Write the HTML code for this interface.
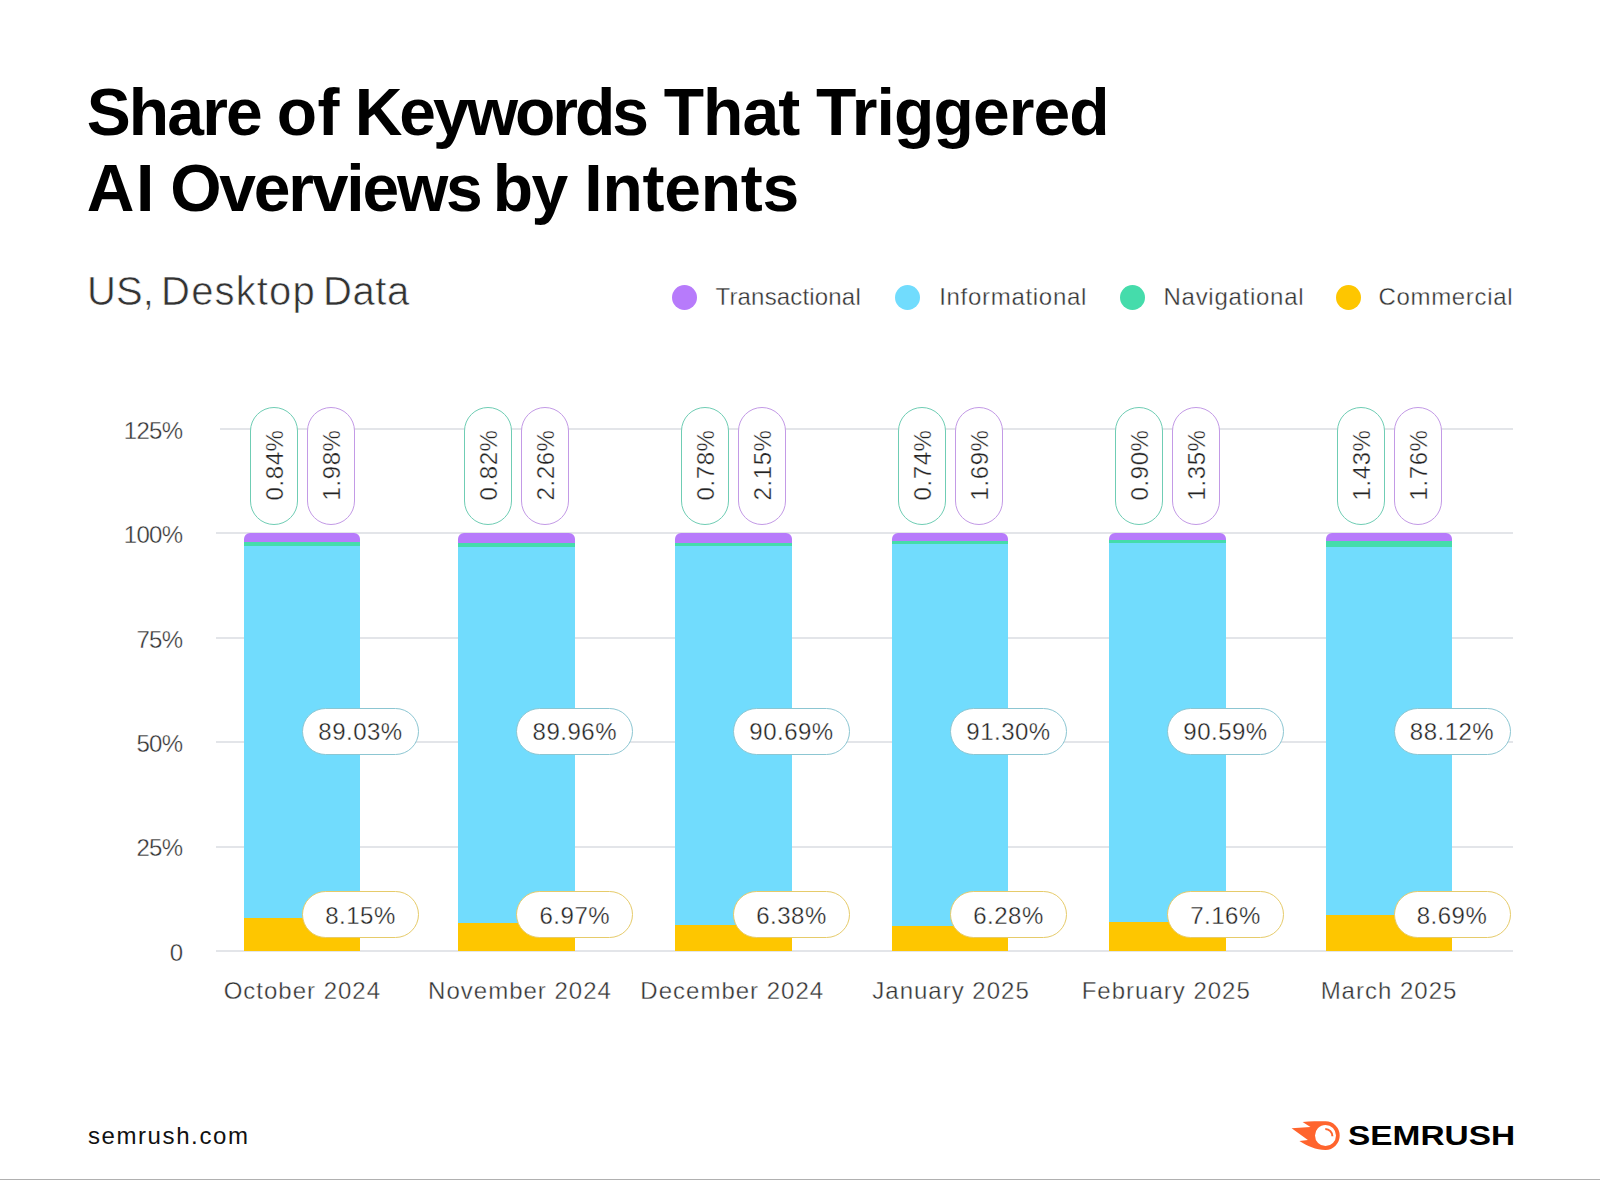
<!DOCTYPE html>
<html><head><meta charset="utf-8">
<style>
html,body{margin:0;padding:0;background:#fff;}
.lt,.yl,.xl,.vt,.hp{-webkit-text-stroke:0.35px #fff;}
.sub{-webkit-text-stroke:0.6px #fff;}
body{width:1600px;height:1180px;position:relative;overflow:hidden;font-family:"Liberation Sans",sans-serif;}
.t{position:absolute;white-space:nowrap;}
.title{position:absolute;left:86.7px;top:73.5px;font-size:66px;line-height:76px;font-weight:700;color:#000;letter-spacing:-1.6px;white-space:nowrap;}
.tw{position:absolute;font-size:66px;line-height:76px;font-weight:700;color:#000;white-space:nowrap;}
.sub{position:absolute;top:271px;font-size:40px;line-height:40px;color:#333;white-space:nowrap;}
.dot{position:absolute;top:285px;width:25px;height:25px;border-radius:50%;}
.lt{position:absolute;top:284.9px;font-size:24px;line-height:24px;color:#333;white-space:nowrap;}
.g{position:absolute;left:216px;width:1297px;height:2px;background:#e3e5e9;}
.yl{position:absolute;left:0;width:182.4px;text-align:right;font-size:24px;line-height:24px;color:#333;letter-spacing:-0.7px;}
.bar{position:absolute;overflow:hidden;border-radius:6px 6px 0 0;}
.vp{position:absolute;top:406.6px;width:46px;height:116px;border:1px solid;border-radius:24px;background:#fff;}
.vt{position:absolute;top:452.6px;width:120px;height:24px;margin-left:-59px;text-align:center;transform:rotate(-90deg);font-size:24px;line-height:24px;color:#222;letter-spacing:0.6px;}
.hp{position:absolute;width:115px;height:45px;border:1px solid;border-radius:24px;background:#fff;font-size:24px;line-height:46px;text-align:center;color:#222;letter-spacing:0.5px;}
.hp2{line-height:48px;}
.xl{position:absolute;top:979.3px;letter-spacing:1px;width:240px;text-align:center;font-size:24px;line-height:24px;color:#333;}
.foot{position:absolute;left:87.9px;top:1124.3px;letter-spacing:1.6px;font-size:24px;line-height:24px;color:#111;}
.logo{position:absolute;left:1348px;top:1116.2px;font-size:27.5px;line-height:40px;font-weight:700;color:#000;transform-origin:0 0;transform:scaleX(1.215);}
.bl{position:absolute;left:0;top:1179px;width:1600px;height:1px;background:#b0b0b0;}
</style></head><body>
<div class="tw" style="left:86.7px;top:73.5px;letter-spacing:-1.85px">Share</div>
<div class="tw" style="left:276.7px;top:73.5px;letter-spacing:0.4px">of</div>
<div class="tw" style="left:354.7px;top:73.5px;letter-spacing:-3.03px">Keywords</div>
<div class="tw" style="left:663.7px;top:73.5px;letter-spacing:-0.93px">That</div>
<div class="tw" style="left:816px;top:73.5px;letter-spacing:-0.89px">Triggered</div>
<div class="tw" style="left:86.7px;top:149.5px;letter-spacing:1.6px">AI</div>
<div class="tw" style="left:170.2px;top:149.5px;letter-spacing:-2.21px">Overviews</div>
<div class="tw" style="left:492.7px;top:149.5px;letter-spacing:-1.4px">by</div>
<div class="tw" style="left:584.3px;top:149.5px;letter-spacing:-0.23px">Intents</div>
<div class="sub" style="left:87.1px;letter-spacing:0px">US,</div>
<div class="sub" style="left:161.1px;letter-spacing:1.15px">Desktop</div>
<div class="sub" style="left:323px;letter-spacing:0.6px">Data</div>
<div class="dot" style="left:671.5px;background:#b77bfb"></div>
<div class="lt" style="left:715.5px;letter-spacing:0.17px">Transactional</div>
<div class="dot" style="left:895.1px;background:#71dcfd"></div>
<div class="lt" style="left:939.2px;letter-spacing:0.7px">Informational</div>
<div class="dot" style="left:1120px;background:#45dcab"></div>
<div class="lt" style="left:1163.5px;letter-spacing:0.73px">Navigational</div>
<div class="dot" style="left:1335.7px;background:#fec600"></div>
<div class="lt" style="left:1378.5px;letter-spacing:0.67px">Commercial</div>
<div class="g" style="top:950.2px"></div>
<div class="yl" style="top:940.9px">0</div>
<div class="g" style="top:845.75px"></div>
<div class="yl" style="top:836.45px">25%</div>
<div class="g" style="top:741.3px"></div>
<div class="yl" style="top:732px">50%</div>
<div class="g" style="top:636.85px"></div>
<div class="yl" style="top:627.55px">75%</div>
<div class="g" style="top:532.4px"></div>
<div class="yl" style="top:523.1px">100%</div>
<div class="g" style="top:427.95px;left:220px;width:1293px"></div>
<div class="yl" style="top:418.65px">125%</div>
<div class="bar" style="left:244.2px;top:533.4px;width:116.3px;height:417.8px">
<div style="position:absolute;left:0;right:0;top:383.75px;height:34.65px;background:#fec600"></div>
<div style="position:absolute;left:0;right:0;top:11.78px;height:372.57px;background:#71dcfd"></div>
<div style="position:absolute;left:0;right:0;top:8.27px;height:4.11px;background:#45dcab"></div>
<div style="position:absolute;left:0;right:0;top:-0px;height:8.87px;background:#b77bfb"></div>
</div>
<div class="vp" style="left:249.85px;border-color:#6fcdb4"></div>
<div class="vt" style="left:273.85px">0.84%</div>
<div class="vp" style="left:306.85px;border-color:#c39ae6"></div>
<div class="vt" style="left:330.85px">1.98%</div>
<div class="hp" style="left:302px;top:707.5px;border-color:#8cc6d2">89.03%</div>
<div class="hp hp2" style="left:302px;top:891px;border-color:#e6cb6a">8.15%</div>
<div class="xl" style="left:182.35px">October 2024</div>
<div class="bar" style="left:458.2px;top:533.36px;width:116.6px;height:417.84px">
<div style="position:absolute;left:0;right:0;top:388.72px;height:29.72px;background:#fec600"></div>
<div style="position:absolute;left:0;right:0;top:12.87px;height:376.45px;background:#71dcfd"></div>
<div style="position:absolute;left:0;right:0;top:9.44px;height:4.03px;background:#45dcab"></div>
<div style="position:absolute;left:0;right:0;top:0px;height:10.04px;background:#b77bfb"></div>
</div>
<div class="vp" style="left:464px;border-color:#6fcdb4"></div>
<div class="vt" style="left:488px">0.82%</div>
<div class="vp" style="left:521px;border-color:#c39ae6"></div>
<div class="vt" style="left:545px">2.26%</div>
<div class="hp" style="left:516.3px;top:707.5px;border-color:#8cc6d2">89.96%</div>
<div class="hp hp2" style="left:516.3px;top:891px;border-color:#e6cb6a">6.97%</div>
<div class="xl" style="left:400px">November 2024</div>
<div class="bar" style="left:675px;top:533.4px;width:116.5px;height:417.8px">
<div style="position:absolute;left:0;right:0;top:391.14px;height:27.26px;background:#fec600"></div>
<div style="position:absolute;left:0;right:0;top:12.24px;height:379.5px;background:#71dcfd"></div>
<div style="position:absolute;left:0;right:0;top:8.98px;height:3.86px;background:#45dcab"></div>
<div style="position:absolute;left:0;right:0;top:-0px;height:9.58px;background:#b77bfb"></div>
</div>
<div class="vp" style="left:680.75px;border-color:#6fcdb4"></div>
<div class="vt" style="left:704.75px">0.78%</div>
<div class="vp" style="left:737.75px;border-color:#c39ae6"></div>
<div class="vt" style="left:761.75px">2.15%</div>
<div class="hp" style="left:733px;top:707.5px;border-color:#8cc6d2">90.69%</div>
<div class="hp hp2" style="left:733px;top:891px;border-color:#e6cb6a">6.38%</div>
<div class="xl" style="left:612.25px">December 2024</div>
<div class="bar" style="left:892.2px;top:533.36px;width:116.3px;height:417.84px">
<div style="position:absolute;left:0;right:0;top:391.6px;height:26.84px;background:#fec600"></div>
<div style="position:absolute;left:0;right:0;top:10.15px;height:382.05px;background:#71dcfd"></div>
<div style="position:absolute;left:0;right:0;top:7.06px;height:3.69px;background:#45dcab"></div>
<div style="position:absolute;left:0;right:0;top:-0px;height:7.66px;background:#b77bfb"></div>
</div>
<div class="vp" style="left:897.85px;border-color:#6fcdb4"></div>
<div class="vt" style="left:921.85px">0.74%</div>
<div class="vp" style="left:954.85px;border-color:#c39ae6"></div>
<div class="vt" style="left:978.85px">1.69%</div>
<div class="hp" style="left:950px;top:707.5px;border-color:#8cc6d2">91.30%</div>
<div class="hp hp2" style="left:950px;top:891px;border-color:#e6cb6a">6.28%</div>
<div class="xl" style="left:831.05px">January 2025</div>
<div class="bar" style="left:1109px;top:533.4px;width:116.5px;height:417.8px">
<div style="position:absolute;left:0;right:0;top:387.89px;height:30.51px;background:#fec600"></div>
<div style="position:absolute;left:0;right:0;top:9.4px;height:379.09px;background:#71dcfd"></div>
<div style="position:absolute;left:0;right:0;top:5.64px;height:4.36px;background:#45dcab"></div>
<div style="position:absolute;left:0;right:0;top:-0px;height:6.24px;background:#b77bfb"></div>
</div>
<div class="vp" style="left:1114.75px;border-color:#6fcdb4"></div>
<div class="vt" style="left:1138.75px">0.90%</div>
<div class="vp" style="left:1171.75px;border-color:#c39ae6"></div>
<div class="vt" style="left:1195.75px">1.35%</div>
<div class="hp" style="left:1167px;top:707.5px;border-color:#8cc6d2">90.59%</div>
<div class="hp hp2" style="left:1167px;top:891px;border-color:#e6cb6a">7.16%</div>
<div class="xl" style="left:1046.25px">February 2025</div>
<div class="bar" style="left:1326px;top:533.4px;width:126px;height:417.8px">
<div style="position:absolute;left:0;right:0;top:381.49px;height:36.91px;background:#fec600"></div>
<div style="position:absolute;left:0;right:0;top:13.33px;height:368.77px;background:#71dcfd"></div>
<div style="position:absolute;left:0;right:0;top:7.35px;height:6.57px;background:#45dcab"></div>
<div style="position:absolute;left:0;right:0;top:-0px;height:7.95px;background:#b77bfb"></div>
</div>
<div class="vp" style="left:1336.5px;border-color:#6fcdb4"></div>
<div class="vt" style="left:1360.5px">1.43%</div>
<div class="vp" style="left:1393.5px;border-color:#c39ae6"></div>
<div class="vt" style="left:1417.5px">1.76%</div>
<div class="hp" style="left:1393.5px;top:707.5px;border-color:#8cc6d2">88.12%</div>
<div class="hp hp2" style="left:1393.5px;top:891px;border-color:#e6cb6a">8.69%</div>
<div class="xl" style="left:1269px">March 2025</div>
<div class="foot">semrush.com</div>
<svg style="position:absolute;left:1285px;top:1115px" width="60" height="40" viewBox="0 0 60 40"><path fill="#ff642d" fill-rule="evenodd" d="M17.6 6.9 C25 6.3 34 6.2 40.5 6.2 A14.2 14.35 0 0 1 40.5 34.9 C31 34.9 22 31 14.4 26 L22.9 25.1 L6.6 13.3 L25.5 12 Z M40.5 9.9 A10.5 10.6 0 1 0 40.5 31.1 A10.5 10.6 0 1 0 40.5 9.9 Z"/><path d="M40.3 13.9 A7.2 7.2 0 0 1 47.4 21.2" fill="none" stroke="#ff642d" stroke-width="2"/></svg>
<div class="logo">SEMRUSH</div>
<div class="bl"></div>
</body></html>
